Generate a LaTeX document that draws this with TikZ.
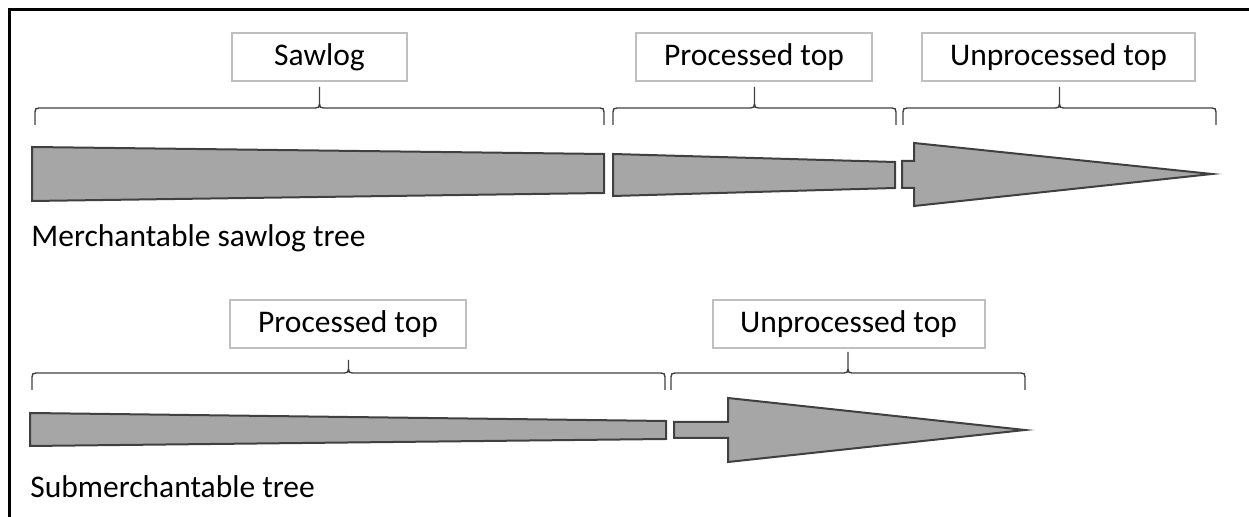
\documentclass[tikz,border=0pt]{standalone}
\usepackage{fontspec}
\setmainfont{Carlito}
\usetikzlibrary{calc}
\definecolor{logfill}{HTML}{A6A6A6}
\definecolor{logline}{HTML}{404040}
\definecolor{boxline}{HTML}{BFBFBF}
\tikzset{segbox/.style = {draw=boxline, line width=1pt, fill=white, rectangle, minimum height=24pt, inner sep=0pt,
                          font=\fontsize{15.75}{19}\selectfont},
         treename/.style = {anchor=base west, inner sep=0pt, font=\fontsize{15.75}{19}\selectfont},
         logpart/.style = {draw=logline, fill=logfill, line width=1pt, line join=miter},
         segbrace/.style = {draw=logline, line width=0.7pt,
            to path={let \p1=(\tikztostart), \p2=(\tikztotarget), \p3=($(\p1)!0.5!(\p2)$) in
              (\p1) -- (\x1,\y1+6.5pt) .. controls (\x1,\y1+8pt) and (\x1+0.5pt,\y1+8.5pt) .. (\x1+2pt,\y1+8.5pt)
              -- (\x3-2pt,\y1+8.5pt) .. controls (\x3-0.5pt,\y1+8.5pt) and (\x3,\y1+9pt) .. (\x3,\y1+10.5pt)
              -- (\x3,\y1+8.5pt+#1) -- (\x3,\y1+10.5pt)
              .. controls (\x3,\y1+9pt) and (\x3+0.5pt,\y1+8.5pt) .. (\x3+2pt,\y1+8.5pt)
              -- (\x2-2pt,\y1+8.5pt) .. controls (\x2-0.5pt,\y1+8.5pt) and (\x2,\y1+8pt) .. (\x2,\y1+6.5pt)
              -- (\p2)}},
         segbrace/.default=10.5pt}

\begin{document}
\begin{tikzpicture}[x=0.5pt,y=-0.5pt]
        \path[use as bounding box] (0,0) rectangle (1249,517);
        \clip (0,0) rectangle (1249,517);
        \draw[line width=1.5pt] (9,10) rectangle (1270,540);

        % merchantable sawlog tree
        \node[segbox, minimum width=87.5pt] (sawlog) at (319.5,57) {Sawlog};
        \node[segbox, minimum width=118pt] (proctopA) at (754,57) {Processed top};
        \node[segbox, minimum width=136.5pt] (unproctopA) at (1058.5,57) {Unprocessed top};

        \coordinate (sawlogL) at (35,125);
        \coordinate (sawlogR) at (604,125);
        \coordinate (proctopAL) at (613,125);
        \coordinate (proctopAR) at (896,125);
        \coordinate (unproctopAL) at (903,125);
        \coordinate (unproctopAR) at (1216,125);
        \draw[segbrace] (sawlogL) to (sawlogR);
        \draw[segbrace] (proctopAL) to (proctopAR);
        \draw[segbrace] (unproctopAL) to (unproctopAR);

        \draw[logpart] (32,147) -- (604,154) -- (604,193) -- (32,201) -- cycle;
        \draw[logpart] (613,154) -- (895,162) -- (895,188) -- (613,196) -- cycle;
        \draw[logpart] (902,161) -- (914,161) -- (914,143) -- (1212,174) -- (914,206) -- (914,188) -- (902,188) -- cycle;

        \node[treename] (treeA) at (31,247) {Merchantable sawlog tree};

        % submerchantable tree
        \node[segbox, minimum width=118pt] (proctopB) at (348,324) {Processed top};
        \node[segbox, minimum width=136pt] (unproctopB) at (848.5,324) {Unprocessed top};

        \coordinate (proctopBL) at (32,390);
        \coordinate (proctopBR) at (665,390);
        \coordinate (unproctopBL) at (671,390);
        \coordinate (unproctopBR) at (1025,390);
        \draw[segbrace=6.5pt] (proctopBL) to (proctopBR);
        \draw[segbrace] (unproctopBL) to (unproctopBR);

        \draw[logpart] (30,413) -- (666,421) -- (666,439) -- (30,446) -- cycle;
        \draw[logpart] (674,422) -- (728,422) -- (728,398) -- (1025,430) -- (728,462) -- (728,438) -- (674,438) -- cycle;

        \node[treename] (treeB) at (30,498) {Submerchantable tree};
\end{tikzpicture}
\end{document}
